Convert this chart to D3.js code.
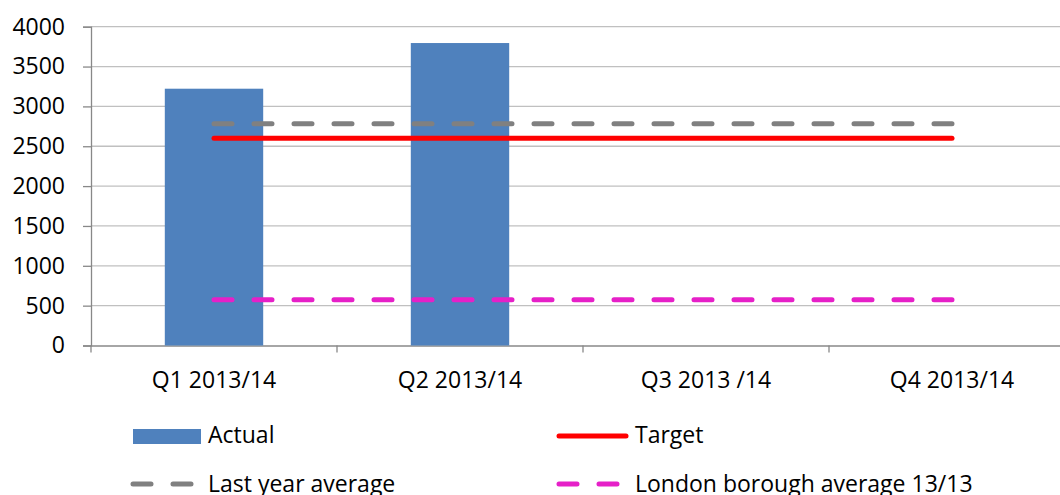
<!DOCTYPE html>
<html>
    <head>
        <script src="https://cdnjs.cloudflare.com/ajax/libs/d3/7.8.5/d3.min.js"></script>
        <title>Quarterly actual vs target</title>
        <style>
            html, body {
                margin: 0;
                background: #ffffff;
            }
            .svg_canvas {
                display: block;
                font-family: "Open Sans", sans-serif;
            }
        </style>
    </head>
    <body>
        <svg width="1060" height="495" class="svg_canvas"></svg>
        <script>
            // data
            var categories = ["Q1 2013/14", "Q2 2013/14", "Q3 2013 /14", "Q4 2013/14"];
            var actual = [3222, 3795, null, null];
            var target = [2600, 2600, 2600, 2600];
            var lastYearAvg = [2783, 2783, 2783, 2783];
            var londonAvg = [575, 575, 575, 575];
            var yTicks = [0, 500, 1000, 1500, 2000, 2500, 3000, 3500, 4000];

            var svg = d3.select(".svg_canvas");

            var x = d3.scaleBand()
                .domain(categories)
                .range([91, 1075])
                .padding(0);

            var y = d3.scaleLinear()
                .domain([0, 4000])
                .range([345.5, 26.7]);

            // gridlines
            svg.append("g")
                .selectAll("line")
                .data(yTicks.slice(1))
                .enter()
                .append("line")
                .attr("x1", 91)
                .attr("x2", 1075)
                .attr("y1", function(d){ return y(d); })
                .attr("y2", function(d){ return y(d); })
                .style("stroke", "#c0c0c0")
                .style("stroke-width", 1.3);

            // y axis
            var yAxis = svg.append("g")
                .attr("transform", "translate(91,0)")
                .call(d3.axisLeft(y)
                    .tickValues(yTicks)
                    .tickFormat(d3.format("d"))
                    .tickSizeOuter(0)
                    .tickSize(8)
                    .tickPadding(18));
            yAxis.select(".domain").style("stroke", "#888").style("stroke-width", 1.3);
            yAxis.selectAll(".tick line").style("stroke", "#888").style("stroke-width", 1.3);
            yAxis.selectAll("text")
                .style("font-family", "'Open Sans', sans-serif")
                .style("font-size", "23px")
                .style("fill", "#000");

            // x axis
            var xAxis = svg.append("g")
                .attr("transform", "translate(0," + y(0) + ")")
                .call(d3.axisBottom(x).tickSize(0).tickPadding(26));
            xAxis.select(".domain").style("stroke", "#888").style("stroke-width", 1.3);
            xAxis.selectAll("text")
                .style("font-family", "'Open Sans', sans-serif")
                .style("font-size", "23px")
                .style("fill", "#000");

            // category separators on x axis
            svg.append("g")
                .selectAll("line")
                .data(categories)
                .enter()
                .append("line")
                .attr("x1", function(d){ return x(d); })
                .attr("x2", function(d){ return x(d); })
                .attr("y1", y(0))
                .attr("y2", y(0) + 7)
                .style("stroke", "#888")
                .style("stroke-width", 1.3);

            // bars
            var barW = x.bandwidth() * 0.4;
            svg.append("g")
                .selectAll("rect")
                .data(categories.map(function(c, i){ return {c: c, v: actual[i]}; })
                    .filter(function(d){ return d.v != null; }))
                .enter()
                .append("rect")
                .attr("x", function(d){ return x(d.c) + x.bandwidth() / 2 - barW / 2; })
                .attr("y", function(d){ return y(d.v); })
                .attr("width", barW)
                .attr("height", function(d){ return y(0) - y(d.v); })
                .style("fill", "#4f81bd");

            var line = d3.line()
                .x(function(d){ return x(d.c) + x.bandwidth() / 2; })
                .y(function(d){ return y(d.v); });

            function toPts(arr) {
                return categories.map(function(c, i){ return {c: c, v: arr[i]}; });
            }

            var series = [
                {name: "Last year average", values: lastYearAvg, color: "#808080", dash: "18,22"},
                {name: "Target", values: target, color: "#ff0000", dash: null},
                {name: "London borough average 13/13", values: londonAvg, color: "#e620c8", dash: "18,22"}
            ];

            svg.append("g")
                .selectAll("path")
                .data(series)
                .enter()
                .append("path")
                .attr("d", function(d){ return line(toPts(d.values)); })
                .style("fill", "none")
                .style("stroke", function(d){ return d.color; })
                .style("stroke-width", 5)
                .style("stroke-linecap", "round")
                .style("stroke-dasharray", function(d){ return d.dash; });

            // legend
            var legend = svg.append("g")
                .style("font-family", "'Open Sans', sans-serif")
                .style("font-size", "23px")
                .style("fill", "#000");

            legend.append("rect")
                .attr("x", 133).attr("y", 429)
                .attr("width", 68).attr("height", 15)
                .style("fill", "#4f81bd");
            legend.append("text").attr("x", 208).attr("y", 443).text("Actual");

            legend.append("line")
                .attr("x1", 559).attr("x2", 626).attr("y1", 436).attr("y2", 436)
                .style("stroke", "#ff0000").style("stroke-width", 5).style("stroke-linecap", "round");
            legend.append("text").attr("x", 635).attr("y", 443).text("Target");

            legend.append("line")
                .attr("x1", 133).attr("x2", 193).attr("y1", 484).attr("y2", 484)
                .style("stroke", "#808080").style("stroke-width", 5).style("stroke-linecap", "round")
                .style("stroke-dasharray", "18,22");
            legend.append("text").attr("x", 208).attr("y", 492).text("Last year average");

            legend.append("line")
                .attr("x1", 559).attr("x2", 619).attr("y1", 484).attr("y2", 484)
                .style("stroke", "#e620c8").style("stroke-width", 5).style("stroke-linecap", "round")
                .style("stroke-dasharray", "18,22");
            legend.append("text").attr("x", 635).attr("y", 492).text("London borough average 13/13");
        </script>
    </body>
</html>
